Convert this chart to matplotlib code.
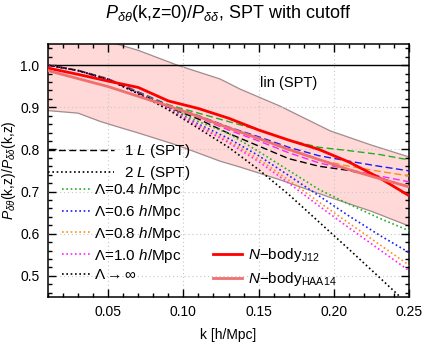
import numpy as np
import matplotlib
matplotlib.use("Agg")
import matplotlib.pyplot as plt
from matplotlib.legend import Legend

plt.rcParams['font.family'] = ['Liberation Sans', 'DejaVu Sans']
plt.rcParams['mathtext.fontset'] = 'custom'
plt.rcParams['mathtext.rm'] = 'Liberation Sans'
plt.rcParams['mathtext.it'] = 'Liberation Sans:italic'
plt.rcParams['mathtext.bf'] = 'Liberation Sans:bold'

k = [0.01, 0.03, 0.05, 0.07, 0.09, 0.11, 0.13, 0.15, 0.17, 0.19, 0.21, 0.23, 0.25]

# 1-loop with cutoff (dashed)
l1_04 = [1.0, 0.988, 0.968, 0.937, 0.906, 0.886, 0.866, 0.846, 0.822, 0.805, 0.797, 0.788, 0.775]
l1_06 = [1.0, 0.987, 0.967, 0.936, 0.904, 0.880, 0.853, 0.830, 0.805, 0.785, 0.772, 0.760, 0.749]
l1_08 = [1.0, 0.987, 0.967, 0.935, 0.902, 0.878, 0.850, 0.825, 0.798, 0.775, 0.760, 0.748, 0.737]
l1_10 = [1.0, 0.987, 0.967, 0.935, 0.901, 0.876, 0.846, 0.820, 0.792, 0.768, 0.752, 0.737, 0.723]
l1_spt = [1.0, 0.987, 0.966, 0.934, 0.900, 0.872, 0.838, 0.808, 0.778, 0.760, 0.750, 0.733, 0.711]

# 2-loop with cutoff (dotted)
l2_04 = [1.0, 0.987, 0.966, 0.934, 0.900, 0.866, 0.838, 0.795, 0.750, 0.705, 0.670, 0.637, 0.607]
l2_06 = [1.0, 0.987, 0.966, 0.933, 0.898, 0.860, 0.826, 0.785, 0.738, 0.690, 0.642, 0.597, 0.555]
l2_08 = [1.0, 0.987, 0.966, 0.933, 0.897, 0.857, 0.820, 0.777, 0.727, 0.675, 0.625, 0.575, 0.525]
l2_10 = [1.0, 0.987, 0.966, 0.933, 0.896, 0.855, 0.816, 0.771, 0.720, 0.666, 0.614, 0.563, 0.512]
l2_spt = [1.0, 0.987, 0.966, 0.932, 0.894, 0.850, 0.805, 0.752, 0.693, 0.628, 0.563, 0.497, 0.430]

nbody_j12 = [0.993, 0.978, 0.962, 0.947, 0.915, 0.897, 0.874, 0.846, 0.822, 0.800, 0.770, 0.733, 0.690]
nbody_haa14 = [0.987, 0.968, 0.949, 0.926, 0.903, 0.878, 0.851, 0.826, 0.800, 0.776, 0.752, 0.731, 0.711]

band_k = [0.01, 0.03, 0.045, 0.055, 0.07, 0.0958, 0.1244, 0.1377, 0.164, 0.1975, 0.225, 0.25]
band_hi = [1.06, 1.065, 1.058, 1.051, 1.035, 1.0, 0.967, 0.943, 0.903, 0.844, 0.81, 0.782]
band_lo = [0.892, 0.886, 0.866, 0.855, 0.839, 0.810, 0.772, 0.758, 0.728, 0.686, 0.653, 0.618]

lin_k = [0.01, 0.25]
lin_v = [1.0, 1.0]

colors = {'04': '#22b022', '06': '#1a1aff', '08': '#ff8c1a', '10': '#ff22ff'}

fig = plt.figure(figsize=(4.24, 3.44), dpi=100)
ax = fig.add_axes([0.113, 0.137, 0.852, 0.735])

bk = np.linspace(0.01, 0.25, 200)
ax.fill_between(bk, np.interp(bk, band_k, band_lo), np.interp(bk, band_k, band_hi),
                facecolor='#ffd8d8', edgecolor='none', zorder=1)
ax.plot(band_k, band_hi, color='#a08c8c', lw=0.9, zorder=2)
ax.plot(band_k, band_lo, color='#a08c8c', lw=0.9, zorder=2)

ax.plot(lin_k, lin_v, color='black', lw=1.0, zorder=3)

dash = (0, (5, 2.5))
dot = (0, (1, 1.6))
ax.plot(k, l1_04, color=colors['04'], lw=1.0, ls=dash, zorder=4)
ax.plot(k, l1_06, color=colors['06'], lw=1.0, ls=dash, zorder=4)
ax.plot(k, l1_08, color=colors['08'], lw=1.0, ls=dash, zorder=4)
ax.plot(k, l1_10, color=colors['10'], lw=1.0, ls=dash, zorder=4)
h1l, = ax.plot(k, l1_spt, color='black', lw=1.0, ls=dash, zorder=4)

hd04, = ax.plot(k, l2_04, color=colors['04'], lw=1.2, ls=dot, zorder=4)
hd06, = ax.plot(k, l2_06, color=colors['06'], lw=1.2, ls=dot, zorder=4)
hd08, = ax.plot(k, l2_08, color=colors['08'], lw=1.2, ls=dot, zorder=4)
hd10, = ax.plot(k, l2_10, color=colors['10'], lw=1.2, ls=dot, zorder=4)
h2l, = ax.plot(k, l2_spt, color='black', lw=1.2, ls=dot, zorder=4)

hj, = ax.plot(k, nbody_j12, color='#ff0000', lw=2.0, zorder=5)
hh, = ax.plot(k, nbody_haa14, color='#f07070', lw=2.0, zorder=5)

ax.set_xlim(0.01, 0.25)
ax.set_ylim(0.45, 1.05)
ax.set_xticks([0.05, 0.10, 0.15, 0.20, 0.25])
ax.set_xticklabels(['0.05', '0.10', '0.15', '0.20', '0.25'])
ax.set_yticks([0.5, 0.6, 0.7, 0.8, 0.9, 1.0])
ax.set_yticklabels(['0.5', '0.6', '0.7', '0.8', '0.9', '1.0'])
ax.set_xticks(np.arange(0.01, 0.2501, 0.01), minor=True)
ax.set_yticks(np.arange(0.46, 1.05, 0.02), minor=True)
ax.tick_params(which='both', direction='in', top=True, right=True, labelsize=10, width=1.0)
ax.tick_params(which='major', length=6, pad=6)
ax.tick_params(which='minor', length=3)
ax.grid(True, which='major', color='#c8c8c8', ls=(0, (1, 2.5)), lw=0.8)
ax.set_axisbelow(False)
for s in ax.spines.values():
    s.set_linewidth(1.1)

ax.set_xlabel('k [h/Mpc]', fontsize=10, labelpad=6)
ax.set_ylabel(r'$P_{\delta\theta}$(k,z)/$P_{\delta\delta}$(k,z)', fontsize=10, labelpad=2)
ax.set_title(r'$P_{\delta\theta}$(k,z=0)/$P_{\delta\delta}$, SPT with cutoff', fontsize=13, pad=19)

ax.text(0.170, 0.957, 'lin (SPT)', fontsize=10.5, ha='center', va='center', zorder=6)

leg1 = Legend(ax, [h1l, h2l], [r'1 $L$ (SPT)', r'2 $L$ (SPT)'], loc='upper left',
              bbox_to_anchor=(0.0, 0.611), frameon=False, fontsize=11, handlelength=4.3,
              handletextpad=0.7, labelspacing=0.25, borderaxespad=0, borderpad=0)
ax.add_artist(leg1)
leg2 = Legend(ax, [hd04, hd06, hd08, hd10, h2l],
              [r'$\Lambda$=0.4 $h$/Mpc', r'$\Lambda$=0.6 $h$/Mpc', r'$\Lambda$=0.8 $h$/Mpc',
               r'$\Lambda$=1.0 $h$/Mpc', r'$\Lambda$$\rightarrow$$\infty$'],
              loc='upper left', bbox_to_anchor=(0.04, 0.458), frameon=False, fontsize=11,
              handlelength=1.9, handletextpad=0.2, labelspacing=0.25, borderaxespad=0, borderpad=0)
ax.add_artist(leg2)
leg3 = Legend(ax, [hj, hh], [r'$N$$-$body$_{\rm J12}$', r'$N$$-$body$_{\rm HAA14}$'],
              loc='upper left', bbox_to_anchor=(0.458, 0.2), frameon=False, fontsize=11,
              handlelength=1.9, handletextpad=0.35, labelspacing=0.4, borderaxespad=0, borderpad=0)
ax.add_artist(leg3)

fig.savefig('out.png', dpi=100)
